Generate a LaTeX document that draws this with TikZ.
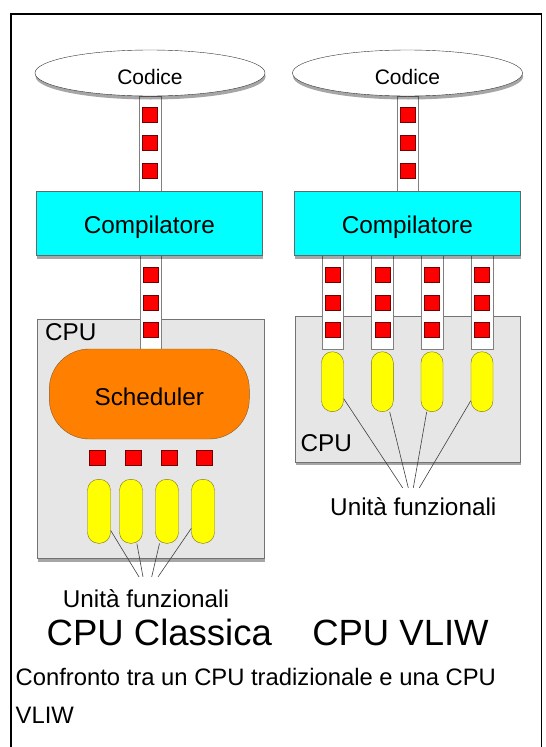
\documentclass[tikz,border=0pt]{standalone}
\usepackage{fontspec}
\setmainfont{Liberation Sans}
\usetikzlibrary{shapes, positioning, shadows}

\definecolor{compcyan}{HTML}{00FFFF}
\definecolor{cpugray}{HTML}{E6E6E6}
\definecolor{schedorange}{HTML}{FF7F00}
\definecolor{tokred}{HTML}{FF0000}
\definecolor{unityellow}{HTML}{FFFF00}

\begin{document}
\begin{tikzpicture}[x=1pt, y=-1pt,
  boxshadow/.style={drop shadow={shadow xshift=0.6pt, shadow yshift=-3.5pt, fill=black, opacity=0.35}},
  codice/.style={draw=black!80, fill=white, ellipse, inner sep=0, minimum width=230pt, minimum height=46pt,
    font=\fontsize{21}{25}\selectfont, text height=23.1pt, text depth=0pt, boxshadow},
  compiler/.style={draw=black!60, fill=compcyan, inner sep=0, minimum width=226.7pt, minimum height=64pt,
    font=\fontsize{24.3}{28}\selectfont, text height=21.5pt, text depth=0pt, boxshadow},
  cpubox/.style={draw=black!55, fill=cpugray, inner sep=0, boxshadow},
  sched/.style={draw=brown!70!black, fill=schedorange, rounded corners=40pt, inner sep=0,
    minimum width=200pt, minimum height=90pt, font=\fontsize{24.3}{28}\selectfont, text height=22.5pt, text depth=0pt},
  pipe/.style={draw=black!50, fill=white, inner sep=0, minimum width=21.5pt},
  token/.style={draw=red!45!black, fill=tokred, inner sep=0, minimum size=15pt},
  unit/.style={draw=olive!80!black, fill=unityellow, inner sep=0, rounded corners=11pt, minimum width=23pt},
  wire/.style={draw=black!75, line width=0.6pt},
  lbl/.style={inner sep=0, font=\fontsize{24.3}{28}\selectfont},
  title/.style={inner sep=0, font=\fontsize{36.5}{42}\selectfont},
  caption/.style={inner sep=0, font=\fontsize{23.8}{38}\selectfont}]
\useasboundingbox (0,0) rectangle (546,747);

% frame
\draw[line width=1.5pt] (11,748) -- (11,14) -- (541.5,14) -- (541.5,748);

% cpu boxes
\node[cpubox, minimum width=226.7pt, minimum height=239pt] (cpuA) at (150.7,439) {};
\node[cpubox, minimum width=225pt, minimum height=146pt] (cpuB) at (407.5,388.7) {};
\node[lbl, anchor=base west] (cpuAlbl) at (44.8,340.7) {CPU};
\node[lbl, anchor=base west] (cpuBlbl) at (300.5,451.7) {CPU};

% pipes with instructions
\node[pipe, minimum height=95pt] (pipeA) at (150,143.5) {};
\node[pipe, minimum height=95pt] (pipeB) at (407.5,143.5) {};
\node[pipe, minimum height=94pt] (pipeC) at (150.5,302) {};
\foreach \j/\y in {1/115, 2/143, 3/171} {
  \node[token] (tokA\j) at (150,\y) {};
  \node[token] (tokB\j) at (407.5,\y) {};
}
\foreach \j/\y in {1/275, 2/302.5, 3/330}
  \node[token] (tokC\j) at (150.5,\y) {};
\foreach \i/\x in {1/332.5, 2/382.3, 3/432, 4/482} {
  \node[pipe, minimum height=94pt] (pipeD\i) at (\x,302) {};
  \foreach \j/\y in {1/275, 2/302.5, 3/330}
    \node[token] (tokD\i-\j) at (\x,\y) {};
}

% code and compiler
\node[codice] (codA) at (150,73) {Codice};
\node[codice] (codB) at (407.5,73) {Codice};
\node[compiler] (compA) at (149.3,223) {Compilatore};
\node[compiler] (compB) at (407.3,223) {Compilatore};

% classic cpu
\node[sched] (schedA) at (149.3,394) {Scheduler};
\foreach \i/\x in {1/97, 2/133, 3/169, 4/204}
  \node[token, minimum size=15.5pt] (tokR\i) at (\x,457.7) {};
\foreach \i/\x in {1/99, 2/131, 3/167, 4/203}
  \node[unit, minimum height=64pt] (unitA\i) at (\x,511.3) {};
\node[lbl, anchor=base] (ufA) at (146,607) {Unità funzionali};
\foreach \i/\s in {1/-7, 2/-3, 3/5.7, 4/12} {
  \coordinate (uA\i) at ([xshift=\s pt, yshift=12pt]ufA.north);
  \draw[wire] (unitA\i) -- (uA\i);
}

% vliw cpu
\foreach \i/\x in {1/332.5, 2/382.3, 3/432, 4/482}
  \node[unit, minimum width=22pt, minimum height=60pt] (unitB\i) at (\x,381.7) {};
\node[lbl, anchor=base] (ufB) at (413.3,515) {Unità funzionali};
\foreach \i/\s in {1/-10.6, 2/-5, 3/0, 4/6} {
  \coordinate (uB\i) at ([xshift=\s pt, yshift=9pt]ufB.north);
  \draw[wire] (unitB\i) -- (uB\i);
}

% titles
\node[title, anchor=base] (titleA) at (159.3,645) {CPU Classica};
\node[title, anchor=base] (titleB) at (400.5,645) {CPU VLIW};
\node[caption, anchor=base west] (capA) at (15.5,685) {Confronto tra un CPU tradizionale e una CPU};
\node[caption, anchor=base west] (capB) at ([yshift=-38pt]capA.base west) {VLIW};
\end{tikzpicture}
\end{document}
